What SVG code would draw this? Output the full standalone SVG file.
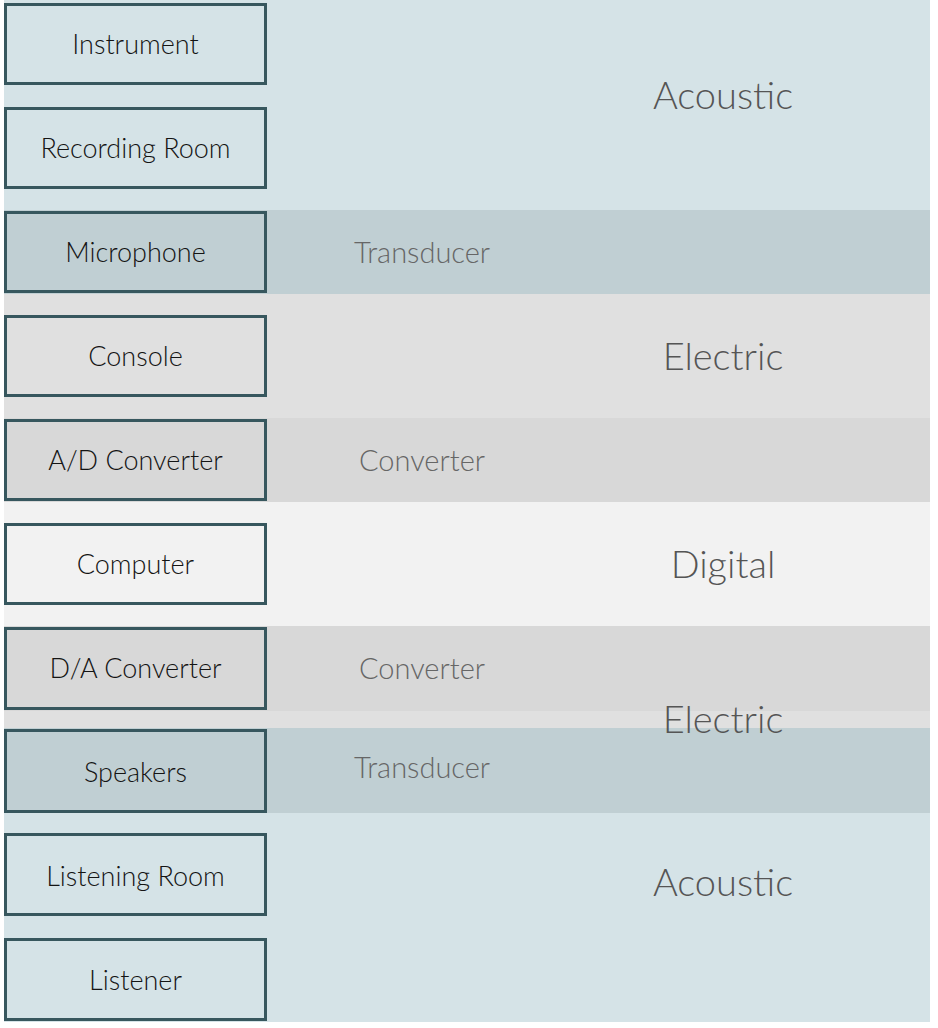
<svg xmlns="http://www.w3.org/2000/svg" width="938" height="1028" viewBox="0 0 938 1028">
<style>
.box{stroke:#37575e;stroke-width:3}
.bt{font-family:Lato,"Liberation Sans",sans-serif;font-weight:300;font-size:27px;fill:#141414;text-anchor:middle;dominant-baseline:central}
.bl{font-family:Lato,"Liberation Sans",sans-serif;font-weight:300;font-size:38px;fill:#555;text-anchor:middle;dominant-baseline:central}
.sl{font-family:Lato,"Liberation Sans",sans-serif;font-weight:300;font-size:29px;fill:#666;text-anchor:middle;dominant-baseline:central}
.ac{fill:#d5e3e7}.tr{fill:#c0cfd3}.el{fill:#e0e0e0}.cv{fill:#d8d8d8}.dg{fill:#f2f2f2}
</style>
<rect width="938" height="1028" fill="#ffffff"/>
<g id="bands">
<rect class="ac" x="4" y="0" width="926" height="210"/>
<rect class="tr" x="4" y="210" width="926" height="84"/>
<rect class="el" x="4" y="294" width="926" height="124"/>
<rect class="cv" x="4" y="418" width="926" height="84"/>
<rect class="dg" x="4" y="502" width="926" height="124"/>
<rect class="el" x="4" y="626" width="926" height="187"/>
<rect class="cv" x="4" y="626" width="926" height="85"/>
<rect class="tr" x="4" y="728" width="926" height="85"/>
<rect class="ac" x="4" y="813" width="926" height="209"/>
<text class="bl" x="723" y="94">Acoustic</text>
<text class="sl" x="422" y="251">Transducer</text>
<text class="bl" x="723" y="355">Electric</text>
<text class="sl" x="422" y="459">Converter</text>
<text class="bl" x="723" y="563">Digital</text>
<text class="sl" x="422" y="667">Converter</text>
<text class="bl" x="723" y="718">Electric</text>
<text class="sl" x="422" y="766">Transducer</text>
<text class="bl" x="723" y="881">Acoustic</text>
</g>
<g id="n1"><rect class="box ac" x="5.5" y="4.5" width="260" height="79"/><text class="bt" x="135.5" y="43">Instrument</text></g>
<g id="n2"><rect class="box ac" x="5.5" y="108.5" width="260" height="79"/><text class="bt" x="135.5" y="147">Recording Room</text></g>
<g id="n3"><rect class="box tr" x="5.5" y="212.5" width="260" height="79"/><text class="bt" x="135.5" y="251">Microphone</text></g>
<g id="n4"><rect class="box el" x="5.5" y="316.5" width="260" height="79"/><text class="bt" x="135.5" y="355">Console</text></g>
<g id="n5"><rect class="box cv" x="5.5" y="420.5" width="260" height="79"/><text class="bt" x="135.5" y="459">A/D Converter</text></g>
<g id="n6"><rect class="box dg" x="5.5" y="524.5" width="260" height="79"/><text class="bt" x="135.5" y="563">Computer</text></g>
<g id="n7"><rect class="box cv" x="5.5" y="628.5" width="260" height="80"/><text class="bt" x="135.5" y="667">D/A Converter</text></g>
<g id="n8"><rect class="box tr" x="5.5" y="730.5" width="260" height="81"/><text class="bt" x="135.5" y="771">Speakers</text></g>
<g id="n9"><rect class="box ac" x="5.5" y="834.5" width="260" height="80"/><text class="bt" x="135.5" y="875">Listening Room</text></g>
<g id="n10"><rect class="box ac" x="5.5" y="939.5" width="260" height="80"/><text class="bt" x="135.5" y="979">Listener</text></g>
<g id="connectors"></g>
</svg>
